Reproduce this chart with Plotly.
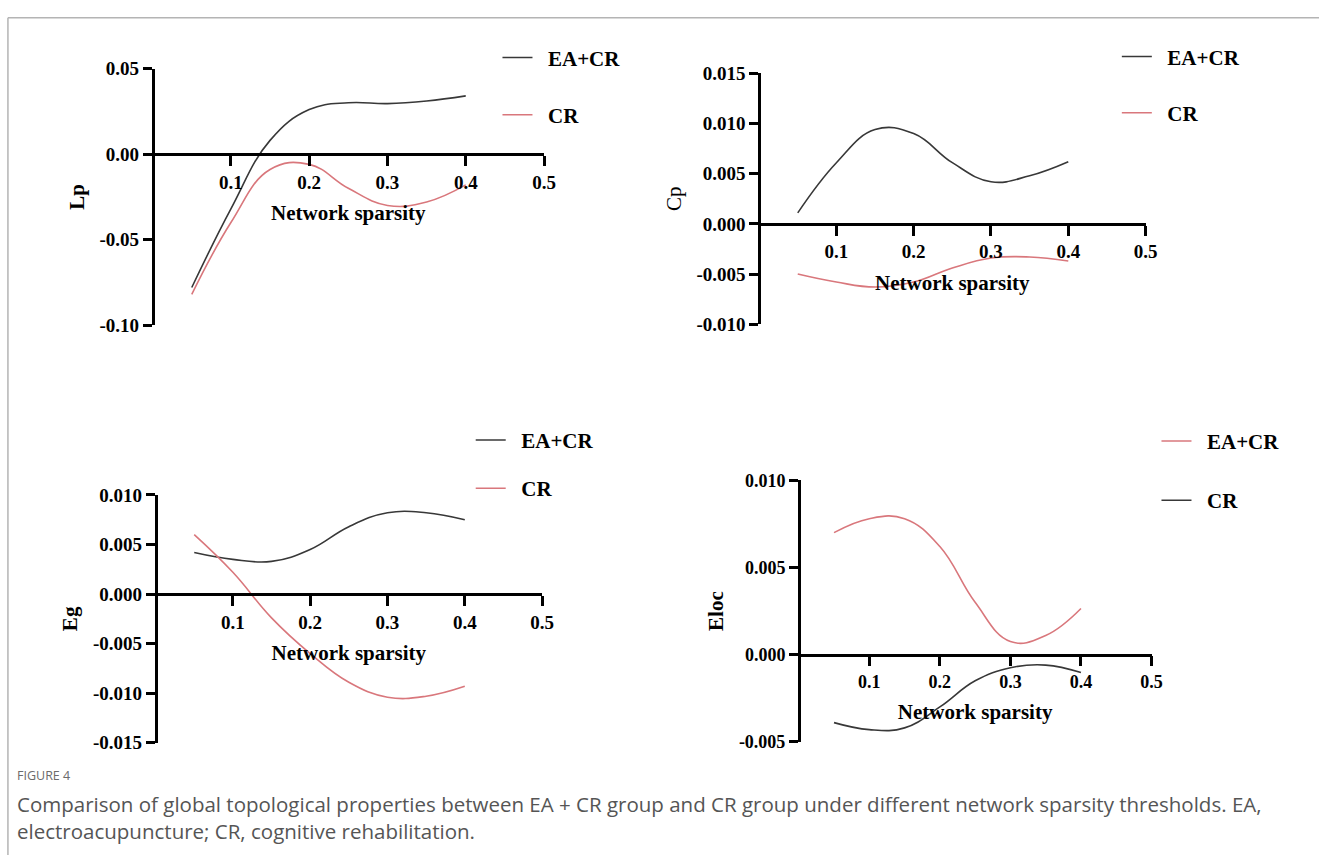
import plotly.graph_objects as go

# ---------------- data ----------------
sparsity = [0.05, 0.10, 0.15, 0.20, 0.25, 0.30, 0.35, 0.40]

lp_eacr = [-0.078, -0.032, 0.008, 0.026, 0.030, 0.0295, 0.031, 0.034]
lp_cr = [-0.082, -0.040, -0.009, -0.006, -0.020, -0.030, -0.028, -0.018]

cp_eacr = [0.0011, 0.0061, 0.0094, 0.0090, 0.0061, 0.0042, 0.0048, 0.0062]
cp_cr = [-0.0050, -0.0058, -0.0063, -0.0058, -0.0044, -0.0034, -0.0033, -0.0037]

eg_eacr = [0.0042, 0.0035, 0.0033, 0.0045, 0.0068, 0.0082, 0.0082, 0.0075]
eg_cr = [0.0060, 0.0022, -0.0024, -0.0060, -0.0089, -0.0104, -0.0103, -0.0093]

eloc_eacr = [0.0070, 0.0078, 0.0078, 0.0062, 0.0030, 0.00075, 0.0011, 0.00265]
eloc_cr = [-0.0039, -0.0043, -0.0042, -0.0030, -0.0015, -0.00075, -0.0006, -0.00103]

x_ticks = [0.1, 0.2, 0.3, 0.4, 0.5]
x_ticktext = ["0.1", "0.2", "0.3", "0.4", "0.5"]

lp_ticks = [0.05, 0.00, -0.05, -0.10]
lp_ticktext = ["0.05", "0.00", "-0.05", "-0.10"]
cp_ticks = [0.015, 0.010, 0.005, 0.000, -0.005, -0.010]
cp_ticktext = ["0.015", "0.010", "0.005", "0.000", "-0.005", "-0.010"]
eg_ticks = [0.010, 0.005, 0.000, -0.005, -0.010, -0.015]
eg_ticktext = ["0.010", "0.005", "0.000", "-0.005", "-0.010", "-0.015"]
eloc_ticks = [0.010, 0.005, 0.000, -0.005]
eloc_ticktext = ["0.010", "0.005", "0.000", "-0.005"]

series_names = ["EA+CR", "CR"]
x_title = "Network sparsity"
caption_label = "FIGURE 4"
caption_text = ("Comparison of global topological properties between EA + CR group and CR group "
                "under different network sparsity thresholds. EA,<br>electroacupuncture; CR, cognitive rehabilitation.")

# ---------------- styling ----------------
W, H = 1331, 866
BLACK = "#383838"
RED = "#d9777c"
SERIF = "Liberation Serif"
PAD = "\u00a0\u00a0"  # small gap between legend line and label


def px_x(p):
    return p / W


def px_y(p):
    return 1 - p / H


panels = [
    dict(ytitle="Lp", a=lp_eacr, b=lp_cr, ca=BLACK, cb=RED, yr=[-0.10, 0.05],
         yt=lp_ticks, ytt=lp_ticktext, xd=(154, 549), yd=(60, 323), bold=True,
         leg=(502, 28, 27), tick=19),
    dict(ytitle="Cp", a=cp_eacr, b=cp_cr, ca=BLACK, cb=RED, yr=[-0.010, 0.015],
         yt=cp_ticks, ytt=cp_ticktext, xd=(766, 1156), yd=(65, 322), bold=False,
         leg=(1127, 27, 26), tick=19),
    dict(ytitle="Eg", a=eg_eacr, b=eg_cr, ca=BLACK, cb=RED, yr=[-0.015, 0.010],
         yt=eg_ticks, ytt=eg_ticktext, xd=(157, 547), yd=(497, 751), bold=True,
         leg=(475, 420, 18), tick=19),
    dict(ytitle="Eloc", a=eloc_eacr, b=eloc_cr, ca=RED, cb=BLACK, yr=[-0.005, 0.010],
         yt=eloc_ticks, ytt=eloc_ticktext, xd=(806, 1162), yd=(482, 750), bold=True,
         leg=(1167, 421, 29), tick=18),
]

fig = go.Figure()
layout = dict(
    width=W, height=H, autosize=False,
    margin=dict(l=0, r=0, t=0, b=0),
    paper_bgcolor="white", plot_bgcolor="white",
    showlegend=True,
)

for i, p in enumerate(panels):
    k = "" if i == 0 else str(i + 1)
    xa, ya = "x" + k, "y" + k
    leg = "legend" + k
    fig.add_trace(go.Scatter(x=sparsity, y=p["a"], mode="lines", name=PAD + series_names[0],
                             line=dict(color=p["ca"], width=1.6, shape="spline", smoothing=1.2),
                             xaxis=xa, yaxis=ya, legend=leg, legendgroup=f"g{i}a"))
    fig.add_trace(go.Scatter(x=sparsity, y=p["b"], mode="lines", name=PAD + series_names[1],
                             line=dict(color=p["cb"], width=1.6, shape="spline", smoothing=1.2),
                             xaxis=xa, yaxis=ya, legend=leg, legendgroup=f"g{i}b"))

    ydom = [px_y(p["yd"][1]), px_y(p["yd"][0])]
    xdom = [px_x(p["xd"][0]), px_x(p["xd"][1])]
    ymin, ymax = p["yr"]
    xpos = ydom[0] + (0 - ymin) / (ymax - ymin) * (ydom[1] - ydom[0])

    tickfont = dict(family=SERIF, size=p["tick"], color="black", weight="bold")
    layout["xaxis" + k] = dict(
        domain=xdom, range=[0, 0.5], anchor="free", position=xpos,
        tickvals=x_ticks, ticktext=x_ticktext, ticks="outside", ticklen=10,
        tickwidth=2.5, tickcolor="black", showline=True, linewidth=2.5, linecolor="black",
        showgrid=False, zeroline=False, tickfont=tickfont, fixedrange=True,
        title=dict(text=x_title, standoff=13,
                   font=dict(family=SERIF, size=21, color="black", weight="bold")),
    )
    layout["yaxis" + k] = dict(
        domain=ydom, range=p["yr"], anchor="free", position=xdom[0],
        tickvals=p["yt"], ticktext=p["ytt"], ticks="outside", ticklen=9,
        tickwidth=2.5, tickcolor="black", showline=True, linewidth=2.5, linecolor="black",
        showgrid=False, zeroline=False, tickfont=tickfont, fixedrange=True,
        title=dict(text=p["ytitle"], standoff=8,
                   font=dict(family=SERIF, size=21, color="black",
                             weight="bold" if p["bold"] else "normal")),
    )
    lx, ly, gap = p["leg"]
    layout[leg] = dict(
        x=px_x(lx), y=px_y(ly), xanchor="left", yanchor="top",
        bgcolor="rgba(0,0,0,0)", borderwidth=0,
        traceorder="grouped", tracegroupgap=gap, itemwidth=30,
        font=dict(family=SERIF, size=21, color="black", weight="bold"),
    )

fig.update_layout(**layout)

# figure frame (gray border at top and left)
fig.add_shape(type="line", xref="paper", yref="paper", x0=px_x(8), x1=1, y0=px_y(8), y1=px_y(8),
              line=dict(color="#b4b4b4", width=1.5))
fig.add_shape(type="line", xref="paper", yref="paper", x0=px_x(8), x1=px_x(8), y0=0, y1=px_y(8),
              line=dict(color="#b4b4b4", width=1.5))

# caption
fig.add_annotation(text=caption_label, xref="paper", yref="paper", x=px_x(15), y=px_y(785),
                   xanchor="left", yanchor="middle", showarrow=False,
                   font=dict(family="Open Sans", size=12.5, color="#6b6b6b"))
fig.add_annotation(text=caption_text, xref="paper", yref="paper", x=px_x(15), y=px_y(797),
                   xanchor="left", yanchor="top", showarrow=False, align="left",
                   font=dict(family="Open Sans", size=20.5, color="#555555"))

page_css = (
    "var s=document.createElement('style');"
    "s.textContent='html,body{margin:0;padding:0;width:1331px;height:866px;overflow:hidden;}"
    "body>div{width:1331px;height:866px;overflow:hidden;}';"
    "document.head.appendChild(s);"
)
fig.write_html("out.html", config={"displayModeBar": False}, post_script=page_css)
